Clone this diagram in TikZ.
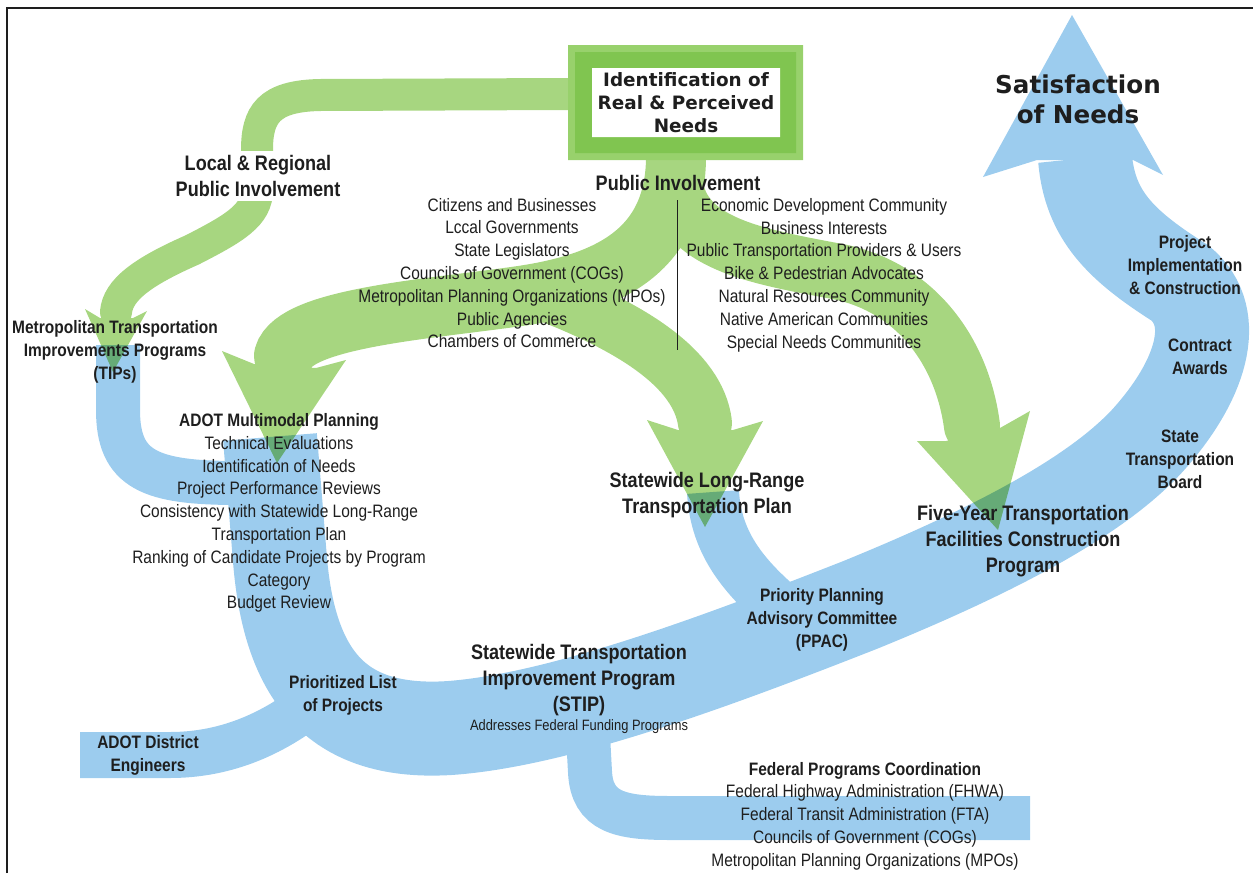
\documentclass[tikz,border=0pt]{standalone}
\usepackage{fontspec}
\setmainfont{Liberation Sans}[FakeStretch=0.86]
\newfontfamily\heavyfont{DejaVu Sans}
\usetikzlibrary{positioning}

\definecolor{ribgreen}{RGB}{167,214,128}
\definecolor{boxgreen}{RGB}{128,197,80}
\definecolor{boxrim}{RGB}{152,209,108}
\definecolor{ribblue}{RGB}{156,204,238}
\definecolor{ink}{RGB}{30,30,30}

\tikzset{
  greenband/.style={draw=ribgreen, line width=#1*0.5pt, line cap=round},
  blueband/.style={draw=ribblue, line width=#1*0.5pt},
  greenhead/.style={fill=ribgreen},
  bluehead/.style={fill=ribblue},
  plaintxt/.style={text=ink, align=center, inner sep=0pt, font=\fontsize{9}{11.4}\selectfont},
  smalltitle/.style={plaintxt, font=\bfseries\fontsize{9}{11.5}\selectfont},
  bigtitle/.style={plaintxt, font=\bfseries\fontsize{10.5}{13}\selectfont},
  heavytitle/.style={plaintxt, font=\heavyfont\bfseries\fontsize{9.2}{11.5}\selectfont},
}

\begin{document}
\begin{tikzpicture}[x=0.5pt, y=-0.5pt]
\useasboundingbox (0,0) rectangle (1253,873);

%---------------------------------------
% Frame
%---------------------------------------
\draw[ink, line width=0.8pt] (7,873) -- (7,8) -- (1253,8);

%====================================================
% BLUE FLOW: programming to satisfaction of needs
%====================================================
% TIPs into ADOT planning
\draw[blueband=44] (118,345) -- (118,410) .. controls (118,470) and (150,483) .. (238,483);
% ADOT district engineers
\draw[blueband=46] (80,755) -- (170,755) .. controls (220,755) and (270,738) .. (318,698);
% long-range plan into PPAC
\draw[blueband=52] (713,492) .. controls (716,545) and (745,580) .. (795,620);
% federal programs coordination
\draw[blueband=44] (588,735) -- (590,772) .. controls (592,812) and (620,818) .. (670,818) -- (1030,818);
% main stream: planning, STIP, five-year program, construction
\draw[blueband=94] (270,437) -- (280,560)
   .. controls (290,680) and (340,735) .. (450,728)
   .. controls (560,720) and (720,660) .. (860,605)
   .. controls (990,552) and (1095,498) .. (1148,440)
   .. controls (1200,382) and (1222,318) .. (1180,283)
   .. controls (1120,245) and (1090,215) .. (1085,158);
\fill[bluehead] (983,177) -- (1072,15) -- (1163,175) -- (1133,160) -- (1037,160) -- cycle;

%====================================================
% GREEN FLOW: public involvement
%====================================================
\begin{scope}[blend mode=multiply]
\begin{scope}[transparency group]
  % local & regional involvement
  \draw[greenband=32] (568,94) -- (320,95) .. controls (268,96) and (257,115) .. (257,150)
     -- (257,190) .. controls (257,215) and (235,228) .. (192,250)
     .. controls (142,272) and (118,290) .. (116,312);
  \fill[greenhead] (85,309) -- (113,372) -- (147,311) -- (133,318) -- (100,318) -- cycle;

  % to ADOT multimodal planning
  \draw[greenband=60] (676,160) .. controls (674,250) and (610,283) .. (520,296)
     .. controls (430,309) and (295,318) .. (284,356);
  \fill[greenhead] (222,351) -- (277,463) -- (346,360) -- (316,368) -- (254,364) -- cycle;

  % to long-range plan
  \draw[greenband=54] (555,298) .. controls (630,328) and (698,368) .. (705,423);
  \fill[greenhead] (647,420) -- (705,527) -- (763,421) -- (733,430) -- (678,430) -- cycle;

  % to five-year program
  \draw[greenband=56] (676,190) .. controls (688,245) and (760,257) .. (840,272)
     .. controls (915,288) and (962,350) .. (972,426);
  \fill[greenhead] (917,441) -- (998,530) -- (1030,411) -- (1000,428) -- (946,441) -- cycle;

  % needs box
  \fill[boxrim] (568,45) rectangle (803,160);
  \fill[boxgreen] (575,52) rectangle (796,153);
  \fill[white] (592,68) rectangle (780,137);
\end{scope}
\end{scope}

% divider between the two lists
\coordinate (divtop) at (677,200);
\coordinate (divbot) at (677,350);
\draw[ink, line width=0.5pt] (divtop) -- (divbot);

%---------------------------------------
% Labels
%---------------------------------------
\node[heavytitle] (needs) at (686,103) {Identification of\\Real \& Perceived\\Needs};
\node[plaintxt, font=\heavyfont\bfseries\fontsize{12.3}{15}\selectfont] (satisfied) at (1078,99) {Satisfaction\\of Needs};

\node[bigtitle, fill=white, inner sep=2pt] (localpi) at (258,176) {Local \& Regional\\Public Involvement};
\node[bigtitle] (publicpi) at (678,183) {Public Involvement};

\node[plaintxt] (citizens) at (512,273) {Citizens and Businesses\\Lccal Governments\\State Legislators\\Councils of Government (COGs)\\Metropolitan Planning Organizations (MPOs)\\Public Agencies\\Chambers of Commerce};
\node[plaintxt] (interests) at (824,275) {Economic Development Community\\Business Interests\\Public Transportation Providers \& Users\\Bike \& Pedestrian Advocates\\Natural Resources Community\\Native American Communities\\Special Needs Communities};

\node[smalltitle] (tips) at (115,352) {Metropolitan Transportation\\Improvements Programs\\(TIPs)};
\node[plaintxt] (adotmp) at (279,513) {\textbf{ADOT Multimodal Planning}\\Technical Evaluations\\Identification of Needs\\Project Performance Reviews\\Consistency with Statewide Long-Range\\Transportation Plan\\Ranking of Candidate Projects by Program\\Category\\Budget Review};

\node[bigtitle] (lrtp) at (707,495) {Statewide Long-Range\\Transportation Plan};
\node[bigtitle] (fiveyear) at (1023,541) {Five-Year Transportation\\Facilities Construction\\Program};

\node[smalltitle] (implement) at (1185,265) {Project\\Implementation\\\& Construction};
\node[smalltitle] (awards) at (1200,357) {Contract\\Awards};
\node[smalltitle] (board) at (1180,459) {State\\Transportation\\Board};
\node[smalltitle] (ppac) at (822,620) {Priority Planning\\Advisory Committee\\(PPAC)};

\node[bigtitle] (stip) at (579,680) {Statewide Transportation\\Improvement Program\\(STIP)};
\node[plaintxt, font=\fontsize{7.5}{9}\selectfont, below=1.5pt of stip] (fedfund) {Addresses Federal Funding Programs};

\node[smalltitle] (priolist) at (343,695) {Prioritized List\\of Projects};
\node[smalltitle] (district) at (148,755) {ADOT District\\Engineers};

\node[plaintxt] (fedcoord) at (865,816) {\textbf{Federal Programs Coordination}\\Federal Highway Administration (FHWA)\\Federal Transit Administration (FTA)\\Councils of Government (COGs)\\Metropolitan Planning Organizations (MPOs)};

\end{tikzpicture}
\end{document}
